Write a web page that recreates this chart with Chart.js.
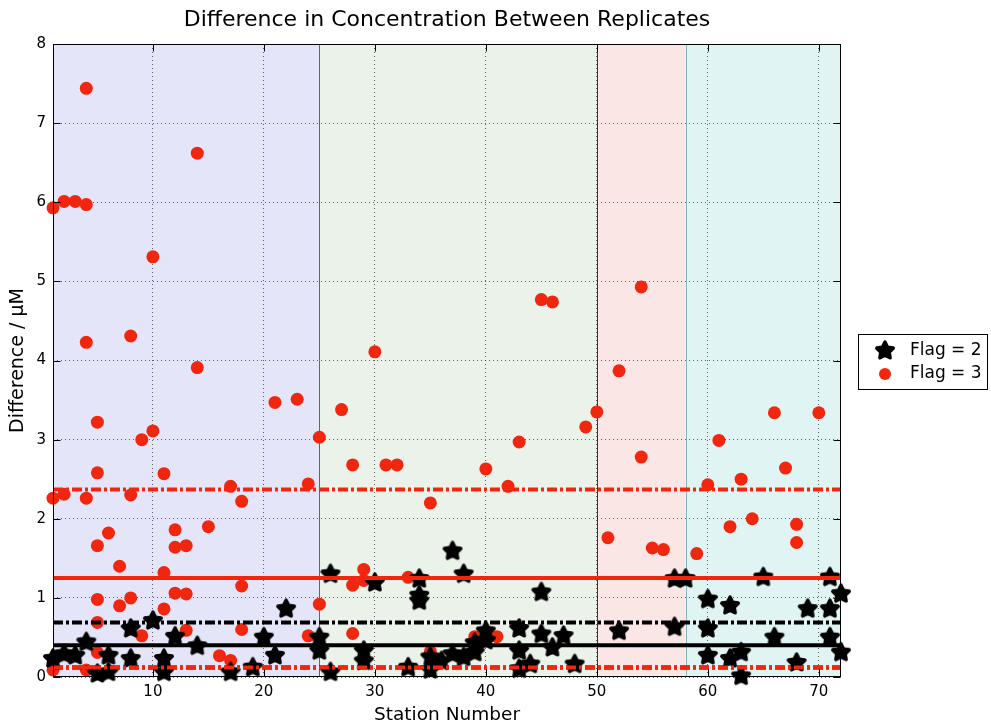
<!DOCTYPE html>
<html>
<head>
<meta charset="utf-8">
<title>Difference in Concentration Between Replicates</title>
<script src="https://cdn.jsdelivr.net/npm/chart.js@4.4.1/dist/chart.umd.min.js"></script>
<style>
  html, body { margin: 0; padding: 0; background: #fff; }
  #wrap { width: 991px; height: 726px; position: relative; }
</style>
</head>
<body>
<div id="wrap"><canvas id="replicateChart"></canvas></div>
<script>
// flag = 2 replicates (station, difference in uM)
const flag2Station = [1, 2, 3, 4, 5, 6, 6, 8, 8, 10, 11, 11, 12, 14, 17, 19, 20, 21, 22, 25, 25, 26, 26, 29, 29, 30, 33,
    34, 34, 34, 35, 35, 36, 37, 37, 38, 38, 39, 39, 40, 40, 43, 43, 43, 44, 45, 45, 46, 47, 48, 52, 57, 57, 58,
    60, 60, 60, 62, 62, 63, 63, 65, 66, 68, 69, 71, 71, 71, 72, 72];
const flag2Diff = [0.24, 0.30, 0.28, 0.45, 0.05, 0.07, 0.28, 0.62, 0.24, 0.72, 0.24, 0.07, 0.52, 0.40, 0.07, 0.13, 0.51, 0.28, 0.87, 0.51, 0.34, 1.31, 0.07, 0.34, 0.21, 1.20, 0.13,
    1.25, 1.04, 0.97, 0.26, 0.10, 0.21, 1.60, 0.30, 1.31, 0.26, 0.32, 0.44, 0.59, 0.47, 0.62, 0.34, 0.11, 0.17, 1.08, 0.55, 0.38, 0.53, 0.17, 0.59, 1.25, 0.64, 1.25,
    0.99, 0.62, 0.28, 0.91, 0.24, 0.32, 0.02, 1.27, 0.51, 0.19, 0.87, 1.27, 0.87, 0.51, 1.06, 0.32];

// flag = 3 replicates
const flag3Station = [1, 1, 1, 2, 2, 3, 4, 4, 4, 4, 4, 5, 5, 5, 5, 5, 5, 6, 7, 7, 8, 8, 8, 9, 9, 10, 10,
    11, 11, 11, 12, 12, 12, 13, 13, 13, 14, 14, 15, 16, 17, 17, 18, 18, 18, 21, 23, 24, 24, 25, 25, 27,
    28, 28, 28, 29, 29, 30, 31, 32, 33, 35, 35, 39, 40, 41, 42, 43, 45, 46, 49, 50, 51, 52, 54, 54,
    55, 56, 59, 60, 61, 62, 63, 64, 66, 67, 68, 68, 70];
const flag3Diff = [5.93, 2.26, 0.09, 6.01, 2.31, 6.01, 5.97, 7.44, 4.23, 2.26, 0.09, 3.22, 2.58, 1.66, 0.98, 0.69, 0.31, 1.82, 1.40, 0.90, 4.31, 2.30, 1.00, 3.00, 0.52, 5.31, 3.11,
    2.57, 1.32, 0.86, 1.86, 1.64, 1.06, 1.66, 1.05, 0.59, 6.62, 3.91, 1.90, 0.27, 2.41, 0.21, 2.22, 1.15, 0.60, 3.47, 3.51, 2.44, 0.52, 3.03, 0.92, 3.38,
    2.68, 1.16, 0.55, 1.36, 1.22, 4.11, 2.68, 2.68, 1.26, 2.20, 0.32, 0.51, 2.63, 0.51, 2.41, 2.97, 4.77, 4.74, 3.16, 3.35, 1.76, 3.87, 4.93, 2.78,
    1.63, 1.61, 1.56, 2.43, 2.99, 1.90, 2.50, 2.00, 3.34, 2.64, 1.93, 1.70, 3.34];

// mean and mean +/- std levels
const flag2Levels = [0.40, 0.69, 0.12];
const flag3Levels = [1.25, 2.37, 0.12];

// station ranges shaded in the background
const regionEdges = [1, 25, 50, 58, 72];
const regionColors = ["#e5e5f9", "#eaf2ea", "#fbe6e6", "#e0f4f4"];
const edgeColors = ["#2f8a2f", "#8a1212", "#7db6bd"];

const xTicks = [10, 20, 30, 40, 50, 60, 70];
const yTicks = [0, 1, 2, 3, 4, 5, 6, 7, 8];

const RED = "#f0260f";
const DASHDOT = [10, 3, 3, 3];
const FONT = '"DejaVu Sans", Verdana, sans-serif';

// filled pentagram like matlab's 'p' marker
function makeStar(size) {
    const c = document.createElement("canvas");
    c.width = size; c.height = size;
    const g = c.getContext("2d");
    const cx = size / 2, cy = size / 2 + 0.8;
    const R = 8.6, r = R * 0.5;
    g.beginPath();
    for (let i = 0; i < 10; i++) {
        const rad = i % 2 === 0 ? R : r;
        const a = -Math.PI / 2 + i * Math.PI / 5;
        const px = cx + rad * Math.cos(a), py = cy + rad * Math.sin(a);
        if (i === 0) g.moveTo(px, py); else g.lineTo(px, py);
    }
    g.closePath();
    g.fillStyle = "#000";
    g.fill();
    g.lineWidth = 3.6;
    g.lineJoin = "round";
    g.strokeStyle = "#000";
    g.stroke();
    return c;
}
const starImg = makeStar(24);

function levelLine(v, color, dash) {
    return {
        type: "line",
        data: [{ x: regionEdges[0], y: v }, { x: regionEdges[regionEdges.length - 1], y: v }],
        borderColor: color,
        borderWidth: 4,
        borderDash: dash,
        borderCapStyle: "butt",
        pointRadius: 0,
        fill: false,
        order: 0
    };
}

const backdrop = {
    id: "backdrop",
    beforeDraw(chart) {
        const { ctx, chartArea: a, scales: { x } } = chart;
        ctx.save();
        for (let i = 0; i < regionColors.length; i++) {
            const l = x.getPixelForValue(regionEdges[i]);
            const r = x.getPixelForValue(regionEdges[i + 1]);
            ctx.fillStyle = regionColors[i];
            ctx.fillRect(l, a.top, r - l, a.bottom - a.top);
        }
        ctx.lineWidth = 1;
        for (let i = 1; i < regionEdges.length - 1; i++) {
            const px = Math.round(x.getPixelForValue(regionEdges[i])) + 0.5;
            ctx.strokeStyle = edgeColors[i - 1];
            ctx.beginPath();
            ctx.moveTo(px, a.top);
            ctx.lineTo(px, a.bottom);
            ctx.stroke();
        }
        ctx.restore();
    }
};

const frame = {
    id: "frame",
    afterDraw(chart) {
        const { ctx, chartArea: a, scales: { x, y } } = chart;
        ctx.save();
        ctx.strokeStyle = "#000";
        ctx.lineWidth = 1;
        const L = Math.round(a.left) + 0.5, R = Math.round(a.right) - 0.5;
        const T = Math.round(a.top) + 0.5, B = Math.round(a.bottom) - 0.5;
        ctx.strokeRect(L, T, R - L, B - T);
        ctx.beginPath();
        xTicks.forEach(v => {
            const px = Math.round(x.getPixelForValue(v)) + 0.5;
            ctx.moveTo(px, B); ctx.lineTo(px, B - 7);
            ctx.moveTo(px, T); ctx.lineTo(px, T + 7);
        });
        yTicks.forEach(v => {
            const py = Math.round(y.getPixelForValue(v)) + 0.5;
            ctx.moveTo(L, py); ctx.lineTo(L + 7, py);
            ctx.moveTo(R, py); ctx.lineTo(R - 7, py);
        });
        ctx.stroke();

        // legend
        ctx.fillStyle = "#fff";
        ctx.fillRect(858, 334, 130, 55);
        ctx.strokeRect(858.5, 334.5, 129, 55);
        ctx.drawImage(starImg, 885 - 12, 350 - 12);
        ctx.fillStyle = RED;
        ctx.beginPath();
        ctx.arc(885, 374, 6, 0, Math.PI * 2);
        ctx.fill();
        ctx.fillStyle = "#000";
        ctx.font = "17px " + FONT;
        ctx.textBaseline = "middle";
        ctx.textAlign = "left";
        ctx.fillText("Flag = 2", 910, 351);
        ctx.fillText("Flag = 3", 910, 374);
        ctx.restore();
    }
};

Chart.defaults.font.family = FONT;
Chart.defaults.color = "#000";

new Chart(document.getElementById("replicateChart"), {
    type: "scatter",
    data: {
        datasets: [
            levelLine(flag3Levels[2], RED, DASHDOT),
            levelLine(flag2Levels[2], "#000", DASHDOT),
            levelLine(flag2Levels[1], "#000", DASHDOT),
            levelLine(flag3Levels[1], RED, DASHDOT),
            levelLine(flag2Levels[0], "#000", []),
            levelLine(flag3Levels[0], RED, []),
            {
                label: "Flag = 2",
                data: flag2Station.map((s, i) => ({ x: s, y: flag2Diff[i] })),
                pointStyle: starImg,
                pointRadius: 10,
                clip: false,
                order: 1
            },
            {
                label: "Flag = 3",
                data: flag3Station.map((s, i) => ({ x: s, y: flag3Diff[i] })),
                pointStyle: "circle",
                pointRadius: 6.5,
                backgroundColor: RED,
                borderColor: RED,
                borderWidth: 0,
                clip: false,
                order: 2
            }
        ]
    },
    options: {
        responsive: true,
        maintainAspectRatio: false,
        animation: false,
        events: [],
        layout: { padding: { left: 0, right: 150, top: 0, bottom: 0 } },
        plugins: {
            legend: { display: false },
            tooltip: { enabled: false },
            title: {
                display: true,
                fullSize: false,
                text: "Difference in Concentration Between Replicates",
                font: { size: 22, weight: "normal" },
                color: "#000",
                padding: { top: 7, bottom: 10.6 }
            }
        },
        scales: {
            x: {
                type: "linear",
                min: regionEdges[0],
                max: regionEdges[regionEdges.length - 1],
                afterBuildTicks: s => { s.ticks = xTicks.map(v => ({ value: v })); },
                afterFit: s => { s.height = 49; },
                grid: { color: "rgba(0,0,0,0.6)", lineWidth: 1, drawTicks: false },
                border: { display: false, dash: [1, 3] },
                ticks: { font: { size: 15 }, padding: 6, maxRotation: 0, color: "#000" },
                title: { display: true, text: "Station Number", font: { size: 18.5 }, color: "#000", padding: { top: 0, bottom: 0 } }
            },
            y: {
                min: 0,
                max: 8,
                afterBuildTicks: s => { s.ticks = yTicks.map(v => ({ value: v })); },
                afterFit: s => { s.width = 53; },
                grid: { color: "rgba(0,0,0,0.6)", lineWidth: 1, drawTicks: false },
                border: { display: false, dash: [1, 3] },
                ticks: { font: { size: 15 }, padding: 7, color: "#000" },
                title: { display: true, text: "Difference / µM", font: { size: 19 }, color: "#000", padding: { top: 6.6, bottom: 0 } }
            }
        }
    },
    plugins: [backdrop, frame]
});
</script>
</body>
</html>
